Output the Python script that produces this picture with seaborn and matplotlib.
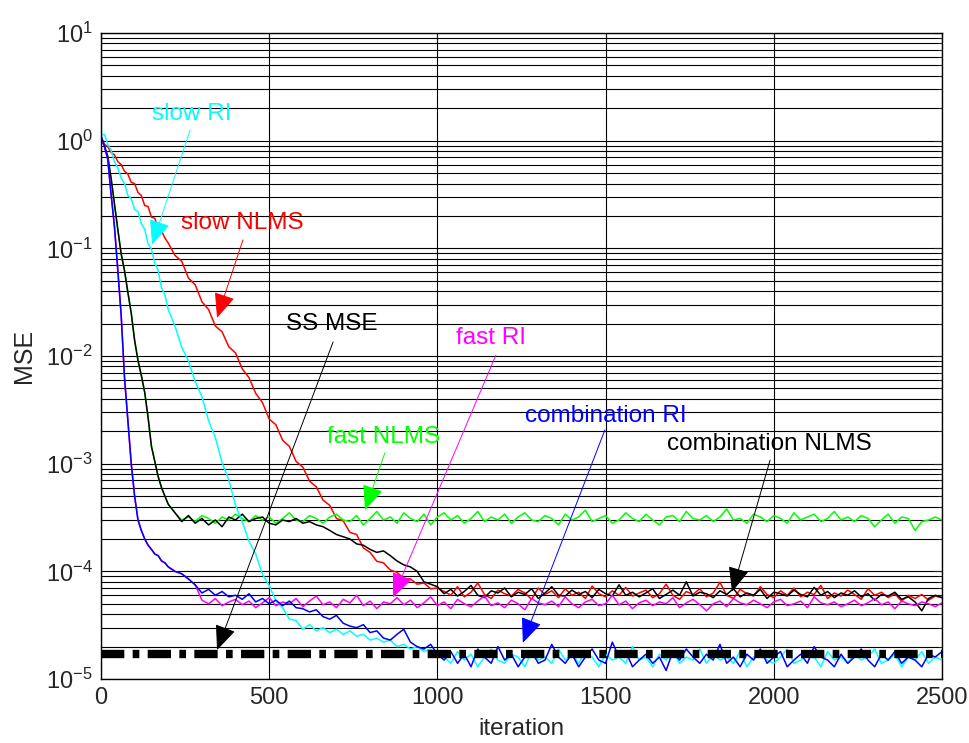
import numpy as np
import matplotlib
matplotlib.use('Agg')
import matplotlib.pyplot as plt
from matplotlib.ticker import LogLocator, NullLocator, NullFormatter, FuncFormatter, FixedLocator
import seaborn as sns

# iteration grid, finer during the initial drop
iteration = np.r_[np.arange(0, 201, 10), np.arange(220, 2501, 20)]

# slow NLMS (red), iterations 0..1000
slow_nlms_head = [1.1, 0.93, 0.88, 0.78, 0.74, 0.64, 0.60, 0.52, 0.49, 0.41, 0.40,
                  0.33, 0.31, 0.25, 0.245, 0.195, 0.19, 0.155, 0.145, 0.125, 0.112,
                  0.086, 0.076, 0.053, 0.046, 0.032, 0.027, 0.019, 0.0168, 0.0122, 0.0107,
                  7.6e-3, 6.3e-3, 4.5e-3, 3.7e-3, 2.6e-3, 2.3e-3, 1.65e-3, 1.45e-3, 1.05e-3, 9.3e-4,
                  6.9e-4, 6.1e-4, 4.6e-4, 4.1e-4, 3.1e-4, 2.95e-4, 2.3e-4, 2.2e-4, 1.65e-4, 1.5e-4,
                  1.24e-4, 1.2e-4, 1.03e-4, 9.8e-5, 8.6e-5, 8.5e-5, 7.6e-5, 7.8e-5, 6.9e-5, 7.0e-5]
# slow NLMS steady state, iterations 1020..2500, units of 1e-5
slow_nlms_tail_e5 = [6.5, 6.0, 7.2, 5.8, 6.4, 7.8, 6.1, 5.6, 6.7, 6.2,
                     5.9, 6.8, 6.3, 5.5, 7.0, 6.1, 6.6, 5.7, 6.9, 6.0,
                     6.4, 5.6, 7.3, 6.2, 5.8, 6.6, 6.0, 7.1, 5.9, 6.3,
                     6.7, 5.7, 6.2, 7.6, 6.0, 5.5, 6.5, 6.1, 6.9, 5.8,
                     6.3, 7.9, 6.0, 5.6, 6.8, 6.2, 5.9, 7.2, 6.1, 5.7,
                     6.6, 6.0, 7.0, 5.8, 6.4, 6.1, 7.4, 5.6, 6.3, 5.9,
                     6.7, 6.1, 5.5, 6.9, 6.0, 6.4, 5.7, 6.2, 5.3, 6.0,
                     5.6, 6.1, 5.4, 5.9, 5.7]

# start shared by fast NLMS and combination NLMS, iterations 0..220
nlms_fast_head = [1.1, 0.90, 0.72, 0.45, 0.26, 0.15, 0.089, 0.062, 0.039, 0.025, 0.014,
                  9.1e-3, 6.6e-3, 4.6e-3, 2.7e-3, 1.45e-3, 1.05e-3, 7.6e-4, 6.0e-4, 5.0e-4, 4.2e-4,
                  3.5e-4]
# fast NLMS (green), iterations 240..2500, units of 1e-4
fast_nlms_tail_e4 = [3.0, 3.2, 2.9, 3.3, 3.1, 2.8, 3.2, 3.0, 3.4,
                     3.1, 2.9, 3.3, 3.0, 3.2, 2.8, 3.1, 3.5, 3.0, 2.9,
                     3.3, 3.1, 2.8, 3.2, 3.4, 3.0, 2.9, 3.3, 2.7, 3.1,
                     3.6, 3.0, 3.2, 2.8, 3.5, 3.1, 2.9, 3.4, 2.7, 3.2,
                     3.5, 3.0, 3.3, 2.8, 3.1, 3.6, 2.9, 3.2, 3.0, 3.4,
                     2.8, 3.2, 3.5, 3.0, 2.9, 3.3, 3.1, 2.7, 3.4, 3.0,
                     3.2, 3.7, 2.9, 3.1, 3.3, 2.8, 3.0, 3.5, 3.1, 2.9,
                     3.4, 3.0, 2.7, 3.2, 3.3, 2.9, 3.6, 3.1, 3.0, 3.3,
                     2.9, 3.2, 3.8, 3.0, 3.1, 2.8, 3.4, 3.2, 2.9, 3.3,
                     3.1, 2.8, 3.5, 3.0, 3.2, 3.4, 2.9, 3.1, 3.6, 3.0,
                     3.2, 2.9, 3.3, 3.1, 2.6, 3.0, 3.4, 2.8, 3.2, 3.1,
                     2.4, 2.9, 3.0, 3.2, 3.0]
# combination NLMS (black), iterations 240..1000, units of 1e-4
comb_nlms_mid_e4 = [2.9, 3.3, 2.8, 3.1, 2.7, 3.0, 2.6, 3.2, 3.0, 3.4, 2.9,
                    3.1, 3.2, 2.8, 2.7, 3.0, 2.9, 3.1, 2.8, 2.9, 2.7,
                    2.6, 2.4, 2.2, 2.1, 2.0, 1.8, 1.75, 1.6, 1.5, 1.55,
                    1.4, 1.25, 1.15, 1.1, 1.0, 0.80, 0.76, 0.72]
# combination NLMS, iterations 1020..2500, units of 1e-5
comb_nlms_tail_e5 = [6.2, 6.8, 5.9, 6.5, 7.4, 6.0, 5.7, 6.6, 6.3, 7.0,
                     5.8, 6.4, 6.1, 6.9, 5.6, 6.3, 7.2, 6.0, 5.9, 6.7,
                     6.1, 6.5, 5.7, 6.8, 6.2, 5.9, 7.5, 6.0, 6.4, 5.8,
                     6.3, 6.9, 5.6, 6.1, 6.7, 6.0, 8.0, 5.9, 6.4, 6.2,
                     5.7, 6.6, 6.1, 6.9, 5.8, 6.3, 6.0, 6.8, 5.6, 6.4,
                     6.2, 5.9, 6.7, 6.1, 5.8, 7.1, 6.0, 6.5, 5.7, 6.3,
                     6.0, 6.6, 5.8, 6.2, 5.4, 6.1, 5.9, 6.4, 5.5, 5.8,
                     5.2, 4.3, 5.6, 6.0, 5.7]

# slow RI (cyan), iterations 0..1000
slow_ri_head = [1.12, 1.15, 0.93, 0.82, 0.64, 0.56, 0.45, 0.40, 0.31, 0.29, 0.23,
                0.22, 0.17, 0.15, 0.11, 0.098, 0.073, 0.062, 0.043, 0.037, 0.027,
                0.019, 0.0121, 9.0e-3, 5.8e-3, 4.2e-3, 2.5e-3, 1.75e-3, 1.02e-3, 7.1e-4, 4.1e-4,
                2.9e-4, 1.9e-4, 1.45e-4, 9.4e-5, 7.4e-5, 5.3e-5, 4.6e-5, 3.6e-5, 3.5e-5, 2.9e-5,
                3.2e-5, 2.8e-5, 3.0e-5, 2.7e-5, 2.9e-5, 2.6e-5, 2.8e-5, 2.5e-5, 2.6e-5, 2.3e-5,
                2.4e-5, 2.2e-5, 2.3e-5, 2.0e-5, 2.1e-5, 1.9e-5, 2.0e-5, 1.8e-5, 1.9e-5, 1.7e-5]
# slow RI, iterations 1020..2500, units of 1e-5
slow_ri_tail_e5 = [1.6, 1.4, 1.8, 1.5, 1.7, 1.3, 1.6, 1.9, 1.5, 1.4,
                   1.7, 1.6, 1.3, 1.8, 1.5, 1.6, 1.4, 1.9, 1.5, 1.7,
                   1.4, 1.8, 1.6, 1.3, 1.7, 1.5, 1.6, 1.4, 2.0, 1.5,
                   1.6, 1.3, 1.7, 1.5, 1.8, 1.4, 1.6, 1.5, 1.9, 1.4,
                   1.7, 1.5, 1.6, 1.4, 1.8, 1.3, 1.6, 1.7, 1.5, 1.4,
                   1.6, 1.9, 1.4, 1.5, 1.7, 1.6, 1.3, 1.8, 1.5, 1.6,
                   1.4, 1.7, 1.5, 1.6, 1.9, 1.4, 1.5, 1.7, 1.3, 1.6,
                   1.5, 1.8, 1.4, 1.6, 1.5]

# start shared by fast RI and combination RI, iterations 0..280
ri_fast_head = [1.1, 0.89, 0.68, 0.32, 0.16, 0.063, 0.024, 6.3e-3, 2.5e-3, 1.0e-3, 5.0e-4,
                3.0e-4, 2.4e-4, 2.0e-4, 1.75e-4, 1.6e-4, 1.45e-4, 1.4e-4, 1.25e-4, 1.2e-4, 1.1e-4,
                1.0e-4, 9.5e-5, 8.5e-5, 7.5e-5]
# fast RI (magenta), iterations 300..2500, units of 1e-5
fast_ri_tail_e5 = [5.4, 5.0, 5.6, 4.8, 5.2, 5.5,
                   4.9, 5.3, 4.6, 5.1, 5.7, 4.8, 5.2, 5.0, 5.6, 4.7,
                   5.3, 5.9, 4.9, 5.2, 4.6, 5.5, 5.1, 6.0, 4.8, 5.3,
                   4.5, 5.2, 5.0, 5.7, 4.9, 5.4, 4.6, 5.1, 5.8, 4.8,
                   5.2, 4.5, 5.5, 5.0, 4.7, 5.3, 5.9, 4.8, 5.1, 4.6,
                   5.4, 5.0, 4.4, 5.6, 5.1, 4.9, 5.3, 4.7, 5.8, 5.0,
                   4.6, 5.2, 5.5, 4.8, 5.0, 6.0, 4.9, 5.3, 4.5, 5.1,
                   5.4, 4.8, 5.2, 5.0, 5.7, 4.6, 5.1, 5.5, 4.9, 4.3,
                   5.0, 5.3, 4.7, 5.6, 5.1, 4.9, 5.4, 5.0, 4.6, 5.2,
                   5.5, 4.8, 5.0, 5.3, 4.6, 5.8, 5.1, 4.9, 5.2, 4.7,
                   5.0, 5.4, 4.8, 5.1, 5.6, 4.9, 5.2, 4.5, 5.3, 5.0,
                   4.8, 5.2, 5.0, 4.7, 5.1]
# combination RI (blue), iterations 300..1000
comb_ri_mid = [6.3e-5, 6.8e-5, 6.0e-5, 6.5e-5, 5.8e-5, 6.0e-5, 5.5e-5, 6.2e-5, 5.2e-5, 5.6e-5,
               5.0e-5, 5.4e-5, 4.8e-5, 5.3e-5, 4.6e-5, 4.5e-5,
               4.2e-5, 4.4e-5, 3.8e-5, 3.6e-5, 3.9e-5, 3.3e-5, 3.1e-5, 3.0e-5, 3.2e-5, 2.7e-5,
               2.8e-5, 2.4e-5, 2.3e-5, 2.6e-5, 2.9e-5, 2.2e-5, 2.0e-5, 1.9e-5, 2.1e-5, 1.7e-5]
# combination RI, iterations 1020..2500, units of 1e-5
comb_ri_tail_e5 = [1.5, 1.8, 1.4, 1.7, 1.3, 1.9, 1.6, 1.4, 2.0, 1.5,
                   1.7, 1.3, 1.6, 1.8, 1.4, 1.5, 2.1, 1.6, 1.4, 1.7,
                   1.3, 1.6, 1.9, 1.5, 1.4, 2.2, 1.6, 1.8, 1.3, 1.5,
                   1.7, 1.4, 1.6, 1.2, 1.8, 1.5, 1.9, 1.6, 1.4, 1.7,
                   1.5, 2.1, 1.4, 1.6, 1.3, 1.7, 1.5, 1.9, 1.4, 1.6,
                   1.8, 1.3, 1.5, 1.7, 1.4, 2.0, 1.6, 1.5, 1.3, 1.7,
                   1.4, 1.6, 1.9, 1.5, 1.3, 1.7, 1.5, 1.8, 1.4, 1.6,
                   1.5, 1.3, 1.7, 1.6, 1.8]

# steady-state MSE
ss_mse = 1.7e-5

# y-axis decades shown
decades = [-5, -4, -3, -2, -1, 0, 1]

slow_nlms = np.r_[slow_nlms_head, np.array(slow_nlms_tail_e5) * 1e-5]
fast_nlms = np.r_[nlms_fast_head, np.array(fast_nlms_tail_e4) * 1e-4]
comb_nlms = np.r_[nlms_fast_head, np.array(comb_nlms_mid_e4) * 1e-4, np.array(comb_nlms_tail_e5) * 1e-5]
slow_ri = np.r_[slow_ri_head, np.array(slow_ri_tail_e5) * 1e-5]
fast_ri = np.r_[ri_fast_head, np.array(fast_ri_tail_e5) * 1e-5]
comb_ri = np.r_[ri_fast_head, comb_ri_mid, np.array(comb_ri_tail_e5) * 1e-5]

sns.set_style('white')
plt.rcParams['font.family'] = ['Liberation Sans', 'DejaVu Sans']
plt.rcParams['axes.unicode_minus'] = False

fig = plt.figure(figsize=(9.7, 7.43), dpi=100)
ax = fig.add_axes([0.1041, 0.0861, 0.8670, 0.8694])

# drawing order as in the original
curves = [(slow_nlms, 'red'), (fast_nlms, 'lime'), (comb_nlms, 'black'),
          (slow_ri, 'cyan'), (fast_ri, 'magenta'), (comb_ri, 'blue')]
for vals, c in curves:
    sns.lineplot(x=iteration, y=vals, color=c, lw=1.1, ax=ax, estimator=None, sort=False)

ax.axhline(ss_mse, color='black', lw=6, linestyle=(0, (2.8, 1.0, 0.8, 1.0)), zorder=5)

ax.set_yscale('log')
ax.set_xlim(0, 2500)
ax.set_ylim(1e-5, 10)
ax.set_xticks(np.arange(0, 2501, 500))
ax.xaxis.set_minor_locator(NullLocator())
major_y = [10.0 ** d for d in decades]
ax.yaxis.set_major_locator(FixedLocator(major_y))
minor_y = [m * 10.0 ** d for d in decades[:-1] for m in range(2, 10)]
ax.yaxis.set_minor_locator(FixedLocator(minor_y))
ax.yaxis.set_minor_formatter(NullFormatter())
ax.yaxis.set_major_formatter(FuncFormatter(
    lambda v, _: r'$\mathregular{10^{%d}}$' % int(round(np.log10(v)))))

ax.set_axisbelow(True)
ax.grid(True, which='both', axis='y', color='black', lw=0.8)
ax.grid(True, which='major', axis='x', color='black', lw=0.8)
ax.tick_params(which='both', direction='in', top=True, right=True, labelsize=17, pad=6)
ax.tick_params(which='major', length=6)
ax.tick_params(which='minor', length=3)
for s in ax.spines.values():
    s.set_color('black')
    s.set_linewidth(1.0)

ax.set_xlabel('iteration', fontsize=17.5, labelpad=6)
ax.set_ylabel('MSE', fontsize=18, labelpad=7)

# text arrows: (label, text position, arrow tail, arrow tip, colour)
notes = [
    ('slow RI', (271, 1.77), (265, 1.26), (152, 0.108), 'cyan'),
    ('slow NLMS', (419, 0.172), (422, 0.12), (345, 0.0226), 'red'),
    ('SS MSE', (687, 0.02), (690, 0.0135), (345, 1.86e-5), 'black'),
    ('fast RI', (1159, 0.0147), (1174, 0.0102), (868, 5.7e-5), 'magenta'),
    ('fast NLMS', (841, 1.78e-3), (844, 1.26e-3), (785, 3.7e-4), 'lime'),
    ('combination RI', (1501, 2.78e-3), (1498, 2.06e-3), (1254, 2.17e-5), 'blue'),
    ('combination NLMS', (1986, 1.53e-3), (1989, 1.08e-3), (1876, 6.45e-5), 'black'),
]
for label, pos, tail, tip, c in notes:
    ax.text(pos[0], pos[1], label, color=c, fontsize=17.5, ha='center', va='center', zorder=6)
    ax.annotate('', xy=tip, xytext=tail,
                arrowprops=dict(arrowstyle='-|>,head_length=1.3,head_width=0.55', color=c,
                                lw=0.7, mutation_scale=12, shrinkA=0, shrinkB=0),
                zorder=6)

fig.savefig('out.png', dpi=100, facecolor='white')
